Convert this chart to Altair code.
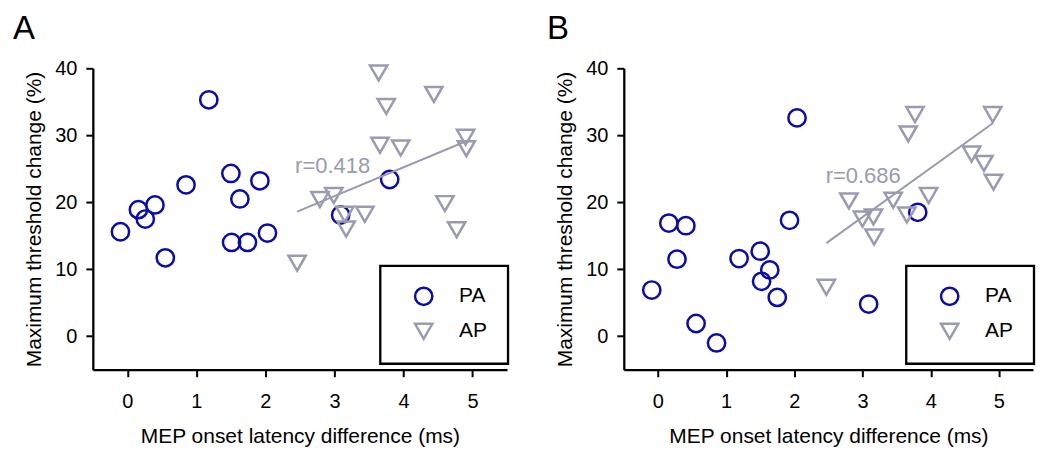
import altair as alt
import pandas as pd

FONT = "Liberation Sans"
PA_COLOR = "#0b0ba6"
AP_COLOR = "#9a9ab0"

groups = ["PA", "AP"]
x_title = "MEP onset latency difference (ms)"
y_title = "Maximum threshold change (%)"
x_ticks = [0, 1, 2, 3, 4, 5]
y_ticks = [0, 10, 20, 30, 40]

# Panel A
a_pa_x = [-0.10, 0.16, 0.26, 0.40, 0.55, 0.85, 1.18, 1.50, 1.63, 1.92, 1.51, 1.74, 2.03, 3.09, 3.80]
a_pa_y = [15.6, 18.9, 17.5, 19.6, 11.7, 22.6, 35.3, 24.3, 20.5, 23.2, 14.0, 14.0, 15.4, 18.1, 23.4]
a_ap_x = [2.46, 3.64, 4.44, 3.75, 3.66, 3.96, 4.90, 4.91, 2.79, 2.99, 3.15, 3.44, 3.17, 4.60, 4.77]
a_ap_y = [10.9, 39.3, 36.1, 34.3, 28.5, 28.1, 29.7, 28.0, 20.4, 21.0, 18.2, 18.2, 16.0, 19.8, 15.9]
a_fit_x = [2.46, 4.95]
a_fit_y = [18.6, 29.3]
a_r_label = ["r=0.418"]
a_r_x = [2.43]
a_r_y = [24.3]

# Panel B
b_pa_x = [-0.09, 0.16, 0.41, 0.28, 0.56, 0.86, 1.19, 1.50, 1.64, 1.52, 1.75, 1.93, 2.04, 3.09, 3.81]
b_pa_y = [6.9, 16.9, 16.5, 11.5, 1.9, -1.0, 11.6, 12.7, 9.9, 8.2, 5.8, 17.3, 32.6, 4.8, 18.5]
b_ap_x = [2.47, 2.80, 3.00, 3.16, 3.17, 3.45, 3.65, 3.97, 3.77, 3.67, 4.91, 4.60, 4.78, 4.92]
b_ap_y = [7.3, 20.2, 17.5, 17.8, 14.8, 20.3, 18.1, 21.0, 33.1, 30.2, 33.1, 27.2, 25.8, 23.0]
b_fit_x = [2.47, 4.91]
b_fit_y = [13.9, 31.8]
b_r_label = ["r=0.686"]
b_r_x = [2.46]
b_r_y = [22.95]

PLOT_H = 302


def panel(letter, width, title_dx, pa_x, pa_y, ap_x, ap_y, fit_x, fit_y, r_label, r_x, r_y):
    pts = pd.DataFrame({
        "x": pa_x + ap_x,
        "y": pa_y + ap_y,
        "group": ["PA"] * len(pa_x) + ["AP"] * len(ap_x),
    })
    fit = pd.DataFrame({"x": fit_x, "y": fit_y})
    lab = pd.DataFrame({"x": r_x, "y": r_y, "t": r_label})

    xs = alt.Scale(domain=[-0.5, 5.5], nice=False, zero=False)
    ys = alt.Scale(domain=[-5, 40], nice=False, zero=False)
    xa = alt.Axis(values=x_ticks, title=x_title, labelPadding=15, titlePadding=14)
    ya = alt.Axis(values=y_ticks, title=y_title, labelPadding=9, titlePadding=10)

    legend = alt.Legend(
        orient="none", legendX=width + 2 - 129, legendY=PLOT_H - 7 - 97, title=None,
        strokeColor="black", padding=20, labelFontSize=21, labelFont=FONT,
        labelColor="black", symbolSize=300, symbolStrokeWidth=2.5,
        labelOffset=25, rowPadding=8, symbolOffset=13,
    )

    points = alt.Chart(pts).mark_point(filled=False, strokeWidth=2.5, size=300, opacity=1).encode(
        x=alt.X("x:Q", scale=xs, axis=xa),
        y=alt.Y("y:Q", scale=ys, axis=ya),
        color=alt.Color("group:N", scale=alt.Scale(domain=groups, range=[PA_COLOR, AP_COLOR]), legend=legend),
        shape=alt.Shape("group:N", scale=alt.Scale(domain=groups, range=["circle", "triangle-down"]), legend=legend),
    )
    line = alt.Chart(fit).mark_line(color=AP_COLOR, strokeWidth=2).encode(
        x=alt.X("x:Q", scale=xs, axis=xa),
        y=alt.Y("y:Q", scale=ys, axis=ya),
    )
    text = alt.Chart(lab).mark_text(
        color=AP_COLOR, font=FONT, fontSize=22, align="left", baseline="alphabetic"
    ).encode(
        x=alt.X("x:Q", scale=xs, axis=xa),
        y=alt.Y("y:Q", scale=ys, axis=ya),
        text="t:N",
    )
    return alt.layer(points, line, text).properties(
        width=width, height=PLOT_H,
        title=alt.TitleParams(letter, anchor="start", frame="group", dx=title_dx,
                              fontSize=33, font=FONT, fontWeight="normal",
                              color="black", offset=12),
    )


pa = panel("A", 415, -80, a_pa_x, a_pa_y, a_ap_x, a_ap_y, a_fit_x, a_fit_y, a_r_label, a_r_x, a_r_y)
pb = panel("B", 410, -77, b_pa_x, b_pa_y, b_ap_x, b_ap_y, b_fit_x, b_fit_y, b_r_label, b_r_x, b_r_y)

chart = alt.hconcat(pa, pb, spacing=37).resolve_scale(
    color="independent", shape="independent"
).resolve_legend(color="independent", shape="independent").properties(
    padding={"left": 5, "top": 5, "right": 0, "bottom": 0},
    background="white",
).configure_view(stroke=None).configure_axis(
    domainColor="black", domainWidth=2.3, tickColor="black", tickWidth=2,
    tickSize=7, labelFont=FONT, labelFontSize=20, labelColor="black",
    titleFont=FONT, titleFontSize=21, titleFontWeight="normal",
    titleColor="black", grid=False,
).configure_legend(strokeWidth=2.3)

chart.save("out.html", embed_options={"renderer": "svg", "actions": False})
